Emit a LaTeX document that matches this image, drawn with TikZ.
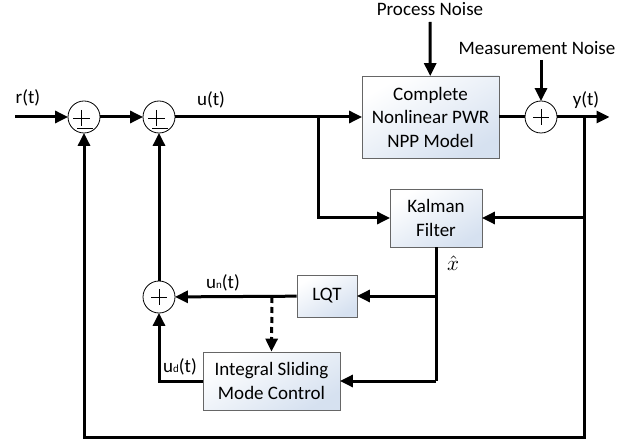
\documentclass[tikz,border=0pt]{standalone}
\usepackage{fontspec}
\setmainfont{Carlito}
\usetikzlibrary{arrows.meta,calc}
\tikzset{
  blk/.style={draw=black!60,line width=0.8pt,top color=white,bottom color={rgb,255:red,214;green,225;blue,240},shading angle=30,
    align=center,inner sep=0pt,font=\fontsize{19}{23.5}\selectfont},
  sumj/.style={draw,circle,line width=0.8pt,minimum size=32pt,inner sep=0pt,fill=white},
  wire/.style={line width=3pt},
  arr/.style={line width=3pt,-{Triangle[length=13pt,width=12pt]},shorten >=-0.5pt},
  lbl/.style={font=\fontsize{19}{22}\selectfont,inner sep=0pt},
}
\newcommand{\plusmark}[1]{\draw[line width=0.9pt] ($(#1)+(-8,0)$) -- ($(#1)+(8,0)$) ($(#1)+(0,-8)$) -- ($(#1)+(0,8)$);}
\newcommand{\pmmark}[1]{\draw[line width=0.9pt] ($(#1)+(-11,1)$) -- ($(#1)+(6,1)$) ($(#1)+(-3,-7)$) -- ($(#1)+(-3,9)$) ($(#1)+(-7,11)$) -- ($(#1)+(9,11)$);}
\begin{document}
\begin{tikzpicture}[x=1pt,y=-1pt]
\useasboundingbox (0,0) rectangle (636,443);
% blocks
\node[blk,minimum width=137pt,minimum height=82pt] (plant) at (430.5,117) {Complete\\Nonlinear PWR\\NPP Model};
\node[blk,minimum width=92pt,minimum height=58pt] (kal) at (436,218) {Kalman\\Filter};
\node[blk,minimum width=60pt,minimum height=42pt] (lqt) at (327,296) {LQT};
\node[blk,minimum width=137pt,minimum height=58pt] (ismc) at (271.5,381) {Integral Sliding\\Mode Control};
% summing junctions
\node[sumj] (s1) at (84,117) {};
\node[sumj] (s2) at (159,117) {};
\node[sumj] (s3) at (541,117) {};
\node[sumj] (s4) at (159,297) {};
\pmmark{s1}
\pmmark{s2}
\plusmark{s3}
\plusmark{s4}
% coordinates
\coordinate (in) at (15,117);
\coordinate (out) at (609,117);
\coordinate (b1) at (318,117);
\coordinate (yb) at (584,117);
\coordinate (ybot) at (584,437);
\coordinate (s1bot) at (84,437);
\coordinate (xk) at (436,381);
\coordinate (dsrc) at (272,297);
\coordinate (pn) at (430,22);
\coordinate (mn) at (541,60);
% labels
\node[lbl] (pnl) at (430,9) {Process Noise};
\node[lbl] (mnl) at (537,48) {Measurement Noise};
\node[lbl] (rl) at (28,98) {r(t)};
\node[lbl] (ul) at (211,100) {u(t)};
\node[lbl] (yl) at (586,100) {y(t)};
\node[lbl] (unl) at (223,283) {u{\fontsize{11}{11}\selectfont n}(t)};
\node[lbl] (udl) at (180,367) {u{\fontsize{11}{11}\selectfont d}(t)};
\node[inner sep=0pt] (xh) at (453,263) {\scalebox{2.1}{$\hat{x}$}};
% connectors
\draw[arr] (in) -- (s1);
\draw[arr] (s1) -- (s2);
\draw[arr] (s2) -- (plant);
\draw[arr] (b1) |- (kal.west);
\draw[arr] (pn) -- (plant);
\draw[wire] (plant) -- (s3);
\draw[arr] (mn) -- (s3);
\draw[arr] (s3) -- (out);
\draw[arr,line cap=rect] (yb) -- (ybot) -- (s1bot) -- (s1);
\draw[arr] (yb |- kal) -- (kal);
\draw[wire] (kal) -- (xk);
\draw[arr] (xk |- lqt) -- (lqt);
\draw[arr] (xk) -- (ismc);
\draw[arr] (lqt) -- (s4);
\draw[line width=3pt,dashed,dash pattern=on 6pt off 4pt,-{Triangle[length=13pt,width=12pt]}] (dsrc) -- (ismc.north);
\draw[arr] (ismc.west) -| (s4);
\draw[arr] (s4) -- (s2);
\end{tikzpicture}
\end{document}
